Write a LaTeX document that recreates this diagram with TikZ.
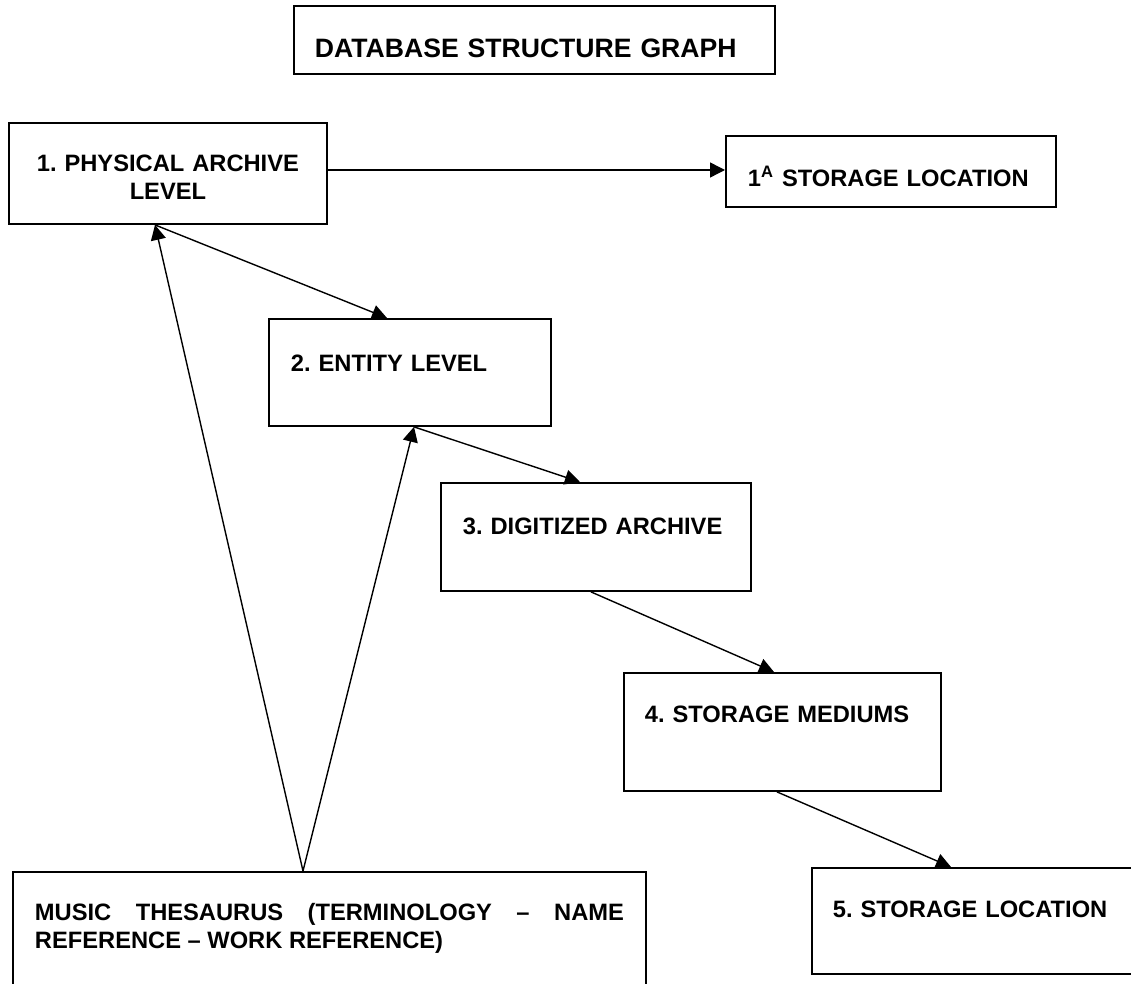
\documentclass[tikz,border=0pt]{standalone}
\usepackage{fontspec}
\setmainfont{Liberation Sans}
\usetikzlibrary{arrows.meta}
\frenchspacing

\begin{document}
\begin{tikzpicture}[x=0.5pt,y=-0.5pt,
        every node/.style={draw,line width=0.95pt,anchor=north west,inner ysep=0pt,align=left,
            font=\fontsize{11.85pt}{14pt}\selectfont\bfseries},
        link/.style={-{Triangle[length=7.5pt,width=7.5pt]},line width=0.7pt}]
    \useasboundingbox (0,0) rectangle (1131,984);
    \clip (0,0) rectangle (1131,984);
    \node[inner xsep=10.5pt,text width=219.5pt,text height=25.75pt,text depth=8.25pt,
        font=\fontsize{13.3pt}{16pt}\selectfont\bfseries] (title) at (293,5) {DATABASE STRUCTURE GRAPH};
    \node[inner xsep=10pt,text width=139pt,align=center,text height=24.25pt,text depth=26.25pt] (physical) at (8,122) {1. PHYSICAL ARCHIVE\\LEVEL};
    \node[inner xsep=11pt,text width=143pt,text height=25.25pt,text depth=10.25pt] (location1a) at (725,135) {1\textsuperscript{A} STORAGE LOCATION};
    \node[inner xsep=11pt,text width=119pt,text height=26.25pt,text depth=27.25pt] (entity) at (268,318) {2. ENTITY LEVEL};
    \node[inner xsep=11pt,text width=133pt,text height=25.75pt,text depth=28.25pt] (digitized) at (440,482) {3. DIGITIZED ARCHIVE};
    \node[inner xsep=10.5pt,text width=137.5pt,text height=24.75pt,text depth=34.25pt] (mediums) at (623,672) {4. STORAGE MEDIUMS};
    \node[inner xsep=10.5pt,text width=143.5pt,text height=24.75pt,text depth=28.25pt] (location) at (811,867) {5. STORAGE LOCATION};
    \node[inner xsep=11pt,text width=294.5pt,align=justify,text height=24.25pt,text depth=40.25pt] (thesaurus) at (12,871)
        {MUSIC THESAURUS (TERMINOLOGY -- NAME\linebreak REFERENCE -- WORK REFERENCE)};

    \draw[link] ([shift={(0,48)}]physical.north east) -- ([shift={(0,35)}]location1a.north west);
    \draw[link] ([shift={(147,0)}]physical.south west) -- ([shift={(119,0)}]entity.north west);
    \draw[link] ([shift={(291,0)}]thesaurus.north west) -- ([shift={(147,0)}]physical.south west);
    \draw[link] ([shift={(291,0)}]thesaurus.north west) -- ([shift={(146,0)}]entity.south west);
    \draw[link] ([shift={(146,0)}]entity.south west) -- ([shift={(140,0)}]digitized.north west);
    \draw[link] ([shift={(151,0)}]digitized.south west) -- ([shift={(151,0)}]mediums.north west);
    \draw[link] ([shift={(154,0)}]mediums.south west) -- ([shift={(140,0)}]location.north west);
\end{tikzpicture}
\end{document}
